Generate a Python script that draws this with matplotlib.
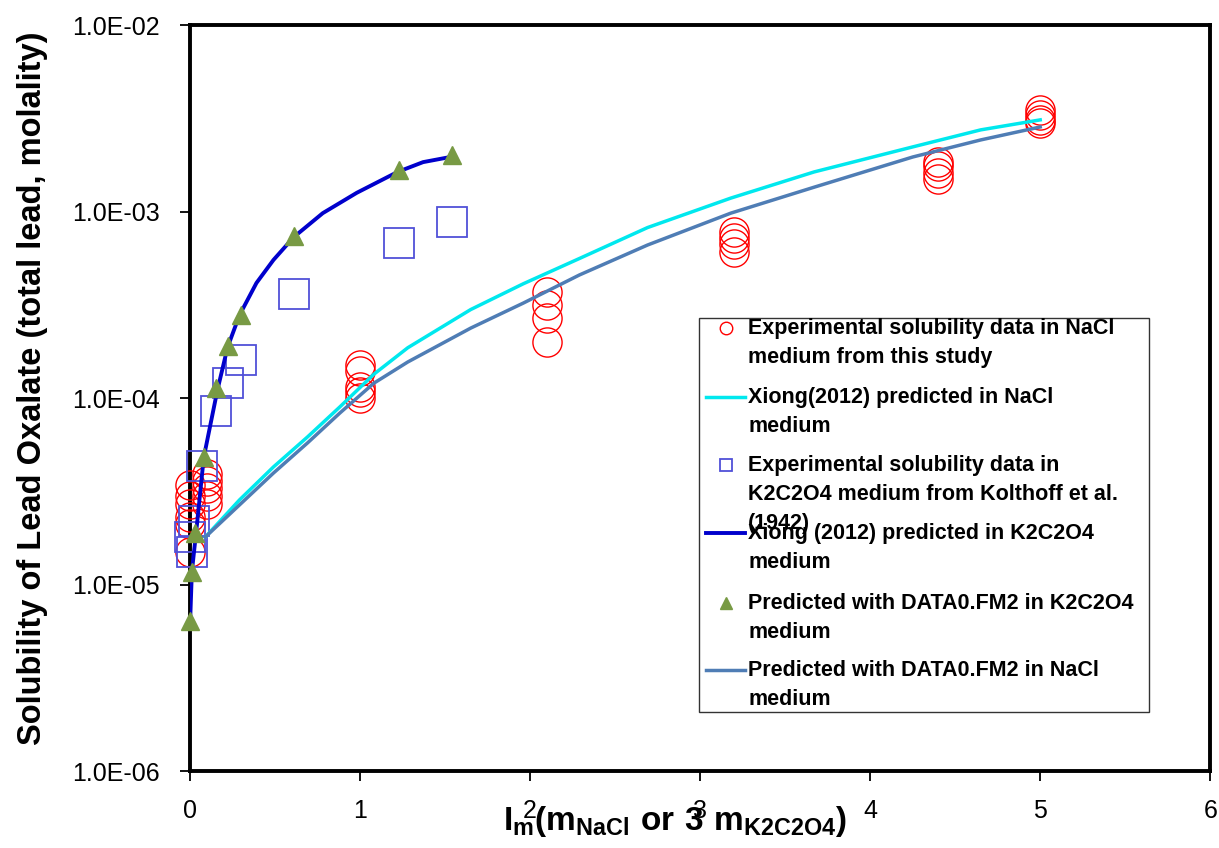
import matplotlib
matplotlib.use("Agg")
import matplotlib.pyplot as plt
from matplotlib.patches import Rectangle
from matplotlib.ticker import FuncFormatter, FixedLocator, NullLocator

plt.rcParams['font.family'] = ['Liberation Sans', 'DejaVu Sans']
plt.rcParams['mathtext.fontset'] = 'custom'
plt.rcParams['mathtext.rm'] = 'Liberation Sans'
plt.rcParams['mathtext.bf'] = 'Liberation Sans:bold'

# experimental data, NaCl medium (this study)
nacl_x = [0.0, 0.0, 0.0, 0.0, 0.0, 0.0,
          0.1, 0.1, 0.1, 0.1, 0.1,
          1.0, 1.0, 1.0, 1.0, 1.0,
          2.1, 2.1, 2.1, 2.1,
          3.2, 3.2, 3.2, 3.2,
          4.4, 4.4, 4.4, 4.4,
          5.0, 5.0, 5.0, 5.0]
nacl_y = [3.4e-5, 3.0e-5, 2.7e-5, 2.3e-5, 2.1e-5, 1.5e-5,
          3.9e-5, 3.6e-5, 3.3e-5, 3.0e-5, 2.7e-5,
          1.5e-4, 1.4e-4, 1.15e-4, 1.08e-4, 1.0e-4,
          3.7e-4, 3.15e-4, 2.7e-4, 2.0e-4,
          7.8e-4, 7.2e-4, 6.7e-4, 6.1e-4,
          1.85e-3, 1.75e-3, 1.6e-3, 1.5e-3,
          3.5e-3, 3.3e-3, 3.1e-3, 3.0e-3]

# Kolthoff et al. (1942), K2C2O4 medium
kolt_x = [0.0, 0.01, 0.02, 0.07, 0.15, 0.22, 0.3, 0.61, 1.23, 1.54]
kolt_y = [1.8e-5, 1.5e-5, 2.2e-5, 4.3e-5, 8.5e-5, 1.2e-4, 1.6e-4, 3.6e-4, 6.8e-4, 8.8e-4]

# Xiong (2012) predicted, NaCl medium
xiong_nacl_x = [0.09, 0.29, 0.49, 0.69, 0.88, 1.08, 1.28, 1.65, 1.96, 2.29,
                2.69, 3.18, 3.67, 4.25, 4.65, 5.0]
xiong_nacl_y = [1.8e-5, 2.84e-5, 4.27e-5, 6.18e-5, 8.95e-5, 1.34e-4, 1.86e-4, 2.98e-4,
                4.1e-4, 5.6e-4, 8.2e-4, 1.18e-3, 1.63e-3, 2.22e-3, 2.74e-3, 3.10e-3]

# Xiong (2012) predicted, K2C2O4 medium
xiong_k_x = [0.0, 0.01, 0.04, 0.08, 0.16, 0.22, 0.29, 0.39, 0.49, 0.61, 0.78, 0.98,
             1.22, 1.37, 1.53]
xiong_k_y = [6.4e-6, 1.17e-5, 2.1e-5, 4.8e-5, 1.1e-4, 1.87e-4, 2.78e-4, 4.14e-4,
             5.5e-4, 7.3e-4, 9.8e-4, 1.26e-3, 1.63e-3, 1.84e-3, 1.96e-3]

# DATA0.FM2 predictions, K2C2O4 medium
fm2_k_x = [0.0, 0.01, 0.03, 0.08, 0.15, 0.22, 0.3, 0.61, 1.23, 1.54]
fm2_k_y = [6.4e-6, 1.17e-5, 1.9e-5, 4.8e-5, 1.13e-4, 1.9e-4, 2.8e-4, 7.4e-4, 1.67e-3, 2.0e-3]

# DATA0.FM2 predictions, NaCl medium
fm2_nacl_x = [0.09, 0.29, 0.49, 0.69, 0.88, 1.08, 1.28, 1.65, 1.96, 2.29,
              2.69, 3.18, 3.67, 4.25, 4.65, 5.0]
fm2_nacl_y = [1.8e-5, 2.67e-5, 3.96e-5, 5.74e-5, 8.3e-5, 1.2e-4, 1.56e-4, 2.37e-4,
              3.23e-4, 4.57e-4, 6.61e-4, 9.8e-4, 1.35e-3, 1.96e-3, 2.42e-3, 2.84e-3]

labels = ["Experimental solubility data in NaCl\nmedium from this study",
          "Xiong(2012) predicted in NaCl\nmedium",
          "Experimental solubility data in\nK2C2O4 medium from Kolthoff et al.\n(1942)",
          "Xiong (2012) predicted in K2C2O4\nmedium",
          "Predicted with DATA0.FM2 in K2C2O4\nmedium",
          "Predicted with DATA0.FM2 in NaCl\nmedium"]

c_red = "#FF0000"
c_cyan = "#00E8EE"
c_sq = "#5050D8"
c_blue = "#0000CC"
c_olive = "#789A44"
c_steel = "#4F7DB5"

fig = plt.figure(figsize=(12.19, 8.48), dpi=100)
ax = fig.add_axes([0.156, 0.0908, 0.8368, 0.8797])

ax.plot(nacl_x, nacl_y, 'o', ms=21, mfc='none', mec=c_red, mew=1.0, zorder=3, clip_on=False)
ax.plot(xiong_nacl_x, xiong_nacl_y, '-', color=c_cyan, lw=2.5, zorder=4)
ax.plot(kolt_x, kolt_y, 's', ms=21, mfc='none', mec=c_sq, mew=1.3, zorder=3, clip_on=False)
ax.plot(xiong_k_x, xiong_k_y, '-', color=c_blue, lw=2.8, zorder=4)
ax.plot(fm2_k_x, fm2_k_y, '^', ms=13, color=c_olive, mec=c_olive, ls='none', zorder=5,
        clip_on=False)
ax.plot(fm2_nacl_x, fm2_nacl_y, '-', color=c_steel, lw=2.5, zorder=4)

ax.set_yscale('log')
ax.set_xlim(0, 6)
ax.set_ylim(1e-6, 1e-2)
ax.yaxis.set_major_locator(FixedLocator([1e-6, 1e-5, 1e-4, 1e-3, 1e-2]))
ax.yaxis.set_minor_locator(NullLocator())
ax.yaxis.set_major_formatter(FuncFormatter(lambda v, p: f"{v:.1E}"))
ax.set_xticks(range(0, 7))
ax.tick_params(axis='both', which='major', direction='out', length=7, width=1.3,
               labelsize=18, top=False, right=False)
ax.tick_params(axis='y', pad=15)
ax.tick_params(axis='x', pad=13)
for s in ax.spines.values():
    s.set_linewidth(2.8)

fig.text(0.027, 0.542, "Solubility of Lead Oxalate (total lead, molality)",
         rotation=90, ha='center', va='center', fontsize=23.5, fontweight='bold')
fig.text(0.554, 0.031, r'$\mathbf{I_m(m_{NaCl}\ or\ 3\ m_{K2C2O4})}$',
         ha='center', va='center', fontsize=24)

# legend box drawn by hand to keep Excel-like fixed spacing
ax.add_patch(Rectangle((0.499, 0.079), 0.441, 0.528, transform=ax.transAxes,
                       facecolor='white', edgecolor='#333333', lw=1.0, zorder=10))
entry_y = [0.5938, 0.5013, 0.4102, 0.3190, 0.2252, 0.1354]
handles = [dict(marker='o', ms=9, mfc='none', mec=c_red, mew=1.0, ls='none'),
           dict(color=c_cyan, lw=2.5),
           dict(marker='s', ms=9, mfc='none', mec=c_sq, mew=1.3, ls='none'),
           dict(color=c_blue, lw=2.8),
           dict(marker='^', ms=9, color=c_olive, ls='none'),
           dict(color=c_steel, lw=2.5)]
for y, h, lab in zip(entry_y, handles, labels):
    if h.get('ls') == 'none':
        ax.plot([0.5255], [y], transform=ax.transAxes, clip_on=False, zorder=11, **h)
    else:
        ax.plot([0.5059, 0.5441], [y, y], transform=ax.transAxes, clip_on=False,
                zorder=11, **h)
    ax.text(0.547, y + 0.013, lab, transform=ax.transAxes, ha='left', va='top',
            fontsize=15.5, fontweight='bold', linespacing=1.5, zorder=12)

fig.savefig("out.png", dpi=100)
plt.close(fig)
